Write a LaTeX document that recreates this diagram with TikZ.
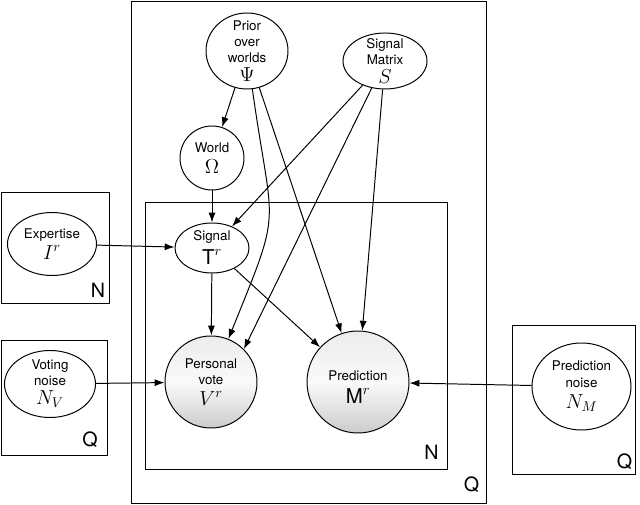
\documentclass[tikz,border=0pt]{standalone}
\usepackage[no-math]{fontspec}
\newfontfamily\heros{TeX Gyre Heros}
\usetikzlibrary{shapes, arrows, arrows.meta, positioning, calc, shapes.geometric}
\newcommand{\bigsym}[1]{{\fontsize{14.5}{15}\selectfont$#1$}}

\begin{document}
\begin{tikzpicture}[
        every node/.style={align=center},
        var/.style={ellipse, draw=black, line width=0.7pt, inner sep=-6pt,
                    font=\heros\fontsize{9.5}{11.5}\selectfont},
        obs/.style={circle, draw=black, line width=0.7pt, inner sep=-6pt,
                    top color=gray!15, bottom color=gray!40, middle color=gray!4,
                    font=\heros\fontsize{9.5}{11.5}\selectfont},
        plate/.style={draw=black, line width=0.7pt},
        platelabel/.style={font=\heros\fontsize{14}{14}\selectfont, inner sep=0pt},
        edge/.style={-{Latex[length=7pt,width=5pt]}, line width=0.7pt}
    ]
        \useasboundingbox (0,0) rectangle (16,12.625);

        % Plates
        \draw[plate] (3.2875,0.05) rectangle (12.15,12.5875);
        \draw[plate] (3.625,0.9) rectangle (11.175,7.575);
        \draw[plate] (0.0375,5.05) rectangle (2.725,7.8);
        \draw[plate] (0.0375,1.25) rectangle (2.675,4.125);
        \draw[plate] (12.8,0.775) rectangle (15.875,4.5);
        \node[platelabel] (qouter) at (11.7875,0.5) {Q};
        \node[platelabel] (ninner) at (10.7875,1.325) {N};
        \node[platelabel] (nexpert) at (2.45,5.375) {N};
        \node[platelabel] (qvote) at (2.25,1.6375) {Q};
        \node[platelabel] (qpred) at (15.6125,1.075) {Q};

        % Variables with explicit coordinates
        \node[var, minimum width=2.05cm, minimum height=1.9cm] (prior) at (6.175,11.35) {Prior\\over\\worlds\\[2pt]\bigsym{\Psi}};
        \node[var, minimum width=2.1cm, minimum height=1.4cm] (smatrix) at (9.625,11.1) {Signal\\Matrix\\[2pt]\bigsym{S}};
        \node[var, minimum width=1.6cm, minimum height=1.6cm] (world) at (5.3,8.675) {World\\[3pt]\bigsym{\Omega}};
        \node[var, minimum width=1.85cm, minimum height=1.25cm] (signal) at (5.3,6.425) {Signal\\[3pt]\bigsym{\hbox{\heros T}^r}};
        \node[var, minimum width=2.225cm, minimum height=1.575cm] (expertise) at (1.3,6.525) {Expertise\\[2pt]\bigsym{I^r}};
        \node[var, minimum width=2.275cm, minimum height=1.675cm] (vnoise) at (1.25,3.025) {Voting\\noise\\[2pt]\bigsym{N_V}};
        \node[var, minimum width=2.475cm, minimum height=2.175cm] (mnoise) at (14.5375,2.9625) {Prediction\\noise\\[4pt]\bigsym{N_M}};
        \node[obs, minimum size=2.3cm] (vote) at (5.275,3.075) {Personal\\vote\\[3pt]\bigsym{V^r}};
        \node[obs, minimum size=2.55cm] (pred) at (8.95,3.075) {\rule{0pt}{14pt}Prediction\\[5pt]\bigsym{\hbox{\heros M}^r}};

        % Dependencies
        \draw[edge] (prior) -- (world);
        \draw[edge] (world) -- (signal);
        \draw[edge] (expertise) -- (signal);
        \draw[edge] (smatrix) -- (signal);
        \draw[edge] (signal) -- (vote);
        \draw[edge] (signal) -- (pred);
        \draw[edge] (prior.-82) to[out=-82, in=68, looseness=1.5] (vote.68);
        \draw[edge] (smatrix) -- (vote.45);
        \draw[edge] (prior) -- (pred);
        \draw[edge] (smatrix) -- (pred);
        \draw[edge] (vnoise) -- (vote);
        \draw[edge] (mnoise) -- (pred);
    \end{tikzpicture}
\end{document}
